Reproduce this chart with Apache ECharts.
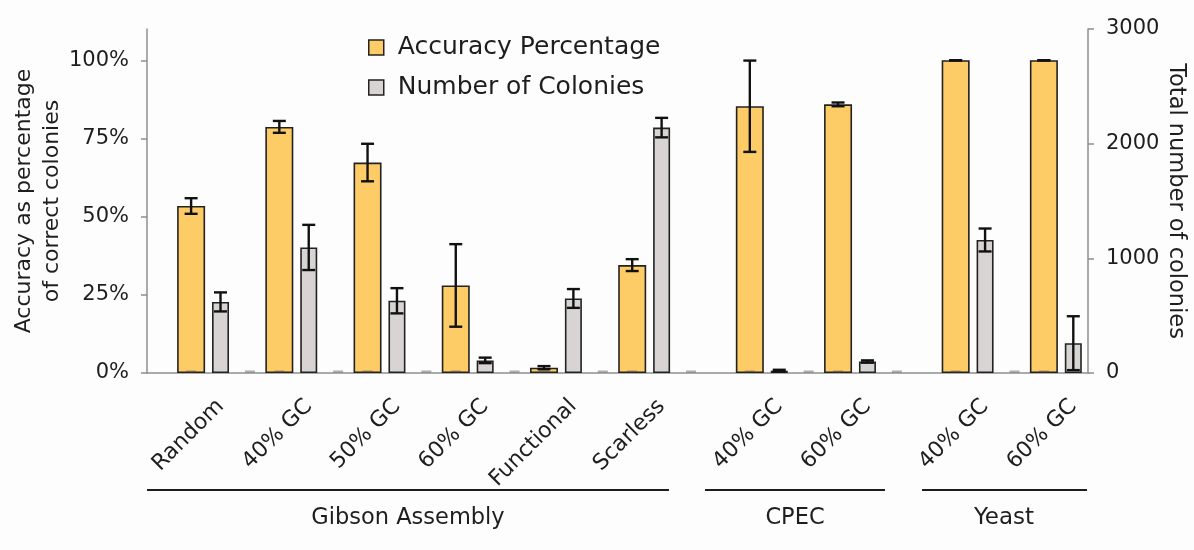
<!DOCTYPE html>
<html>
<head>
<meta charset="utf-8">
<script src="https://cdn.jsdelivr.net/npm/echarts@6/dist/echarts.min.js"></script>
<style>
  html, body { margin: 0; padding: 0; background: #fdfdfd; }
  #chart { width: 1194px; height: 550px; }
</style>
</head>
<body>
<div id="chart"></div>
<script>
// ---- data ----
const groups = ['Gibson Assembly', 'CPEC', 'Yeast'];
const groupSizes = [6, 2, 2];
const labels = ['Random', '40% GC', '50% GC', '60% GC', 'Functional', 'Scarless',
                '40% GC', '60% GC', '40% GC', '60% GC'];
const accuracy    = [53.4, 78.7, 67.3, 28.0, 1.7, 34.5, 85.3, 85.9, 100, 100];
const accuracyErr = [2.5, 1.9, 6.0, 13.2, 0.5, 1.9, 14.6, 0.6, 0, 0];
const colonies    = [620, 1095, 630, 110, 650, 2140, 20, 100, 1160, 260];
const coloniesErr = [83, 197, 110, 24, 82, 85, 8, 10, 100, 235];
const leftTicks  = [0, 25, 50, 75, 100];
const rightTicks = [0, 1000, 2000, 3000];

// ---- slot layout on the category axis ----
// Each method group opens with an empty slot; every assay then takes three
// slots: accuracy bar, colony bar and an empty baseline marker.
const groupOf = [];
groupSizes.forEach((n, g) => { for (let i = 0; i < n; i++) groupOf.push(g); });
const slots = [];
let k = 0;
groupSizes.forEach((n) => {
  slots.push({ kind: 'gap' });
  for (let i = 0; i < n; i++, k++) {
    slots.push({ kind: 'acc', i: k });
    slots.push({ kind: 'col', i: k });
    slots.push({ kind: 'dash' });
  }
});
if (slots[slots.length - 1].kind === 'dash') slots.pop();

// Each assay name is written under its colony bar slot.
const mainCats = slots.map(s => s.kind === 'col' ? labels[s.i] : '');

const accBars = slots.map(s => s.kind === 'acc' ? accuracy[s.i] : '-');
const colBars = slots.map(s => s.kind === 'col' ? colonies[s.i] : '-');
const accErrData = [], colErrData = [], markers = [];
slots.forEach((s, j) => {
  if (s.kind === 'acc') { accErrData.push([j, accuracy[s.i], accuracyErr[s.i]]); markers.push([j, 0]); }
  if (s.kind === 'col') colErrData.push([j, colonies[s.i], coloniesErr[s.i]]);
  if (s.kind === 'dash') markers.push([j, 0]);
});

const FONT = '"DejaVu Sans", Verdana, sans-serif';
const INK = '#1e1e1e';
const AXIS = '#8e8e8e';

function errorBar(params, api) {
  const x = api.value(0), v = api.value(1), e = api.value(2);
  const top = api.coord([x, v + e]);
  const bot = api.coord([x, v - e]);
  const hw = 6.5;
  const style = { stroke: '#111', lineWidth: 2.4, fill: null };
  return {
    type: 'group',
    children: [
      { type: 'line', shape: { x1: top[0], y1: top[1], x2: bot[0], y2: bot[1] }, style },
      { type: 'line', shape: { x1: top[0] - hw, y1: top[1], x2: top[0] + hw, y2: top[1] }, style },
      { type: 'line', shape: { x1: bot[0] - hw, y1: bot[1], x2: bot[0] + hw, y2: bot[1] }, style }
    ]
  };
}

const chart = echarts.init(document.getElementById('chart'), null, { renderer: 'canvas' });

const groupText = (x, text, size) => ({
  type: 'text', x: x, y: 518,
  style: { text: text, fill: INK, font: size + 'px ' + FONT, textAlign: 'center', textVerticalAlign: 'middle' }
});
const bracket = (x1, x2) => ({
  type: 'line', shape: { x1: x1, y1: 490, x2: x2, y2: 490 }, style: { stroke: INK, lineWidth: 1.8 }
});

chart.setOption({
  animation: false,
  backgroundColor: '#fdfdfd',
  textStyle: { fontFamily: FONT, color: INK },
  legend: {
    data: ['Accuracy Percentage', 'Number of Colonies'],
    orient: 'vertical',
    left: 368, top: 35, padding: 0,
    itemWidth: 15, itemHeight: 15, itemGap: 15,
    icon: 'rect',
    itemStyle: { borderColor: '#222', borderWidth: 1.5 },
    textStyle: { fontFamily: FONT, fontSize: 25, color: INK, padding: [0, 0, 0, 9] }
  },
  grid: { left: 147, right: 106, top: 29, bottom: 177, outerBoundsMode: 'none', containLabel: false },
  xAxis: [
    {
      type: 'category', data: mainCats,
      axisLine: { lineStyle: { color: AXIS, width: 1.5 } },
      axisTick: { interval: (i) => i % 3 === 0, length: 6, lineStyle: { color: AXIS, width: 1.5 } },
      axisLabel: { interval: 0, rotate: 45, margin: 30, color: INK, fontFamily: FONT, fontSize: 22 }
    },
    { type: 'category', data: mainCats, show: false }
  ],
  yAxis: [
    {
      type: 'value', min: 0, max: 110, interval: 25,
      name: 'Accuracy as percentage\nof correct colonies',
      nameLocation: 'middle', nameGap: 81, nameRotate: 90, nameMoveOverlap: false,
      nameTextStyle: { fontFamily: FONT, fontSize: 22, color: INK, lineHeight: 28 },
      splitLine: { show: false },
      axisLine: { show: true, lineStyle: { color: AXIS, width: 1.5 } },
      axisTick: { show: true, length: 6, customValues: leftTicks, lineStyle: { color: AXIS, width: 1.5 } },
      axisLabel: { customValues: leftTicks, formatter: '{value}%', margin: 18,
                   fontFamily: FONT, fontSize: 21, color: INK }
    },
    {
      type: 'value', min: 0, max: 3000, interval: 1000, position: 'right',
      name: 'Total number of colonies',
      nameLocation: 'middle', nameGap: 76, nameRotate: -90, nameMoveOverlap: false,
      nameTextStyle: { fontFamily: FONT, fontSize: 22.5, color: INK },
      splitLine: { show: false },
      axisLine: { show: true, lineStyle: { color: AXIS, width: 1.5 } },
      axisTick: { show: true, length: 6, customValues: rightTicks, lineStyle: { color: AXIS, width: 1.5 } },
      axisLabel: { customValues: rightTicks, formatter: (v) => String(v), margin: 18,
                   fontFamily: FONT, fontSize: 21, color: INK }
    }
  ],
  series: [
    {
      name: 'Accuracy Percentage', type: 'bar',
      xAxisIndex: 0, yAxisIndex: 0, data: accBars, barWidth: 28,
      itemStyle: { color: '#FECC66', borderColor: '#222', borderWidth: 1.6 },
      z: 2
    },
    {
      name: 'Number of Colonies', type: 'bar',
      xAxisIndex: 1, yAxisIndex: 1, data: colBars, barWidth: 17,
      itemStyle: { color: '#D9D4D4', borderColor: '#222', borderWidth: 1.6 },
      z: 2
    },
    {
      name: 'accuracy error', type: 'custom',
      xAxisIndex: 0, yAxisIndex: 0, data: accErrData,
      renderItem: errorBar, encode: { x: 0, y: 1 }, z: 4, silent: true
    },
    {
      name: 'colony error', type: 'custom',
      xAxisIndex: 1, yAxisIndex: 1, data: colErrData,
      renderItem: errorBar, encode: { x: 0, y: 1 }, z: 4, silent: true
    },
    {
      name: 'baseline', type: 'scatter',
      xAxisIndex: 1, yAxisIndex: 0, data: markers,
      symbol: 'rect', symbolSize: [10, 2], symbolOffset: [0, -1.5],
      itemStyle: { color: 'rgba(70,70,70,0.55)' }, z: 3, silent: true
    }
  ],
  graphic: [
    bracket(147, 669), bracket(705, 885), bracket(922, 1087),
    groupText(408, groups[0], 22.5),
    groupText(795, groups[1], 22.5),
    groupText(1004, groups[2], 23)
  ]
});
</script>
</body>
</html>
